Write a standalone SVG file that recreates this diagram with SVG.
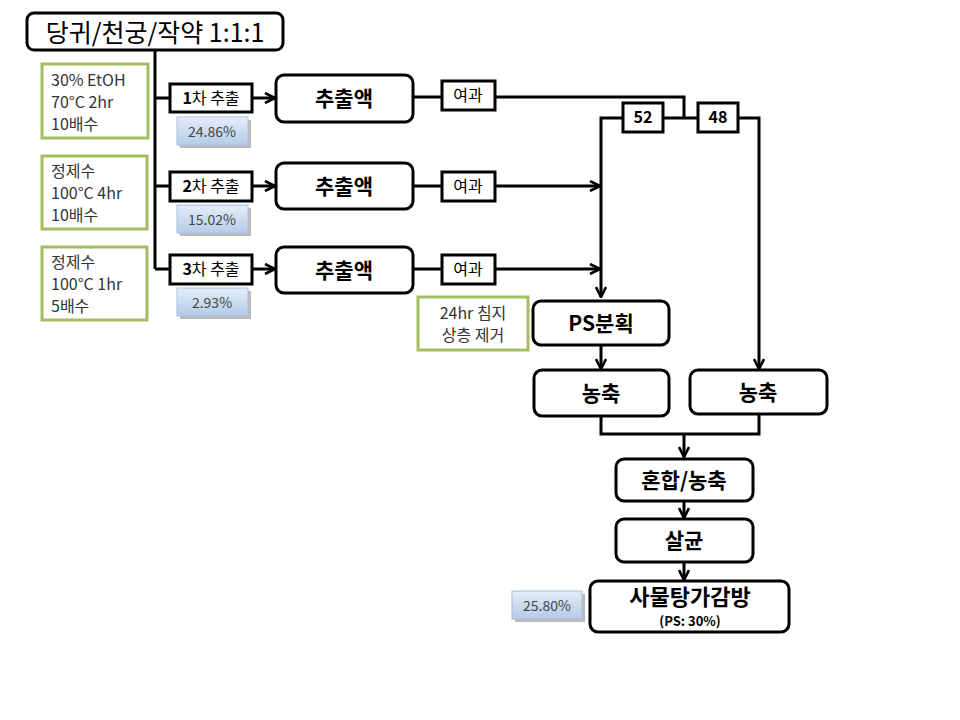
<svg xmlns="http://www.w3.org/2000/svg" width="960" height="720" viewBox="0 0 960 720">
<style>
text{font-family:"Noto Sans CJK KR","Noto Sans",sans-serif;fill:#000}
.box{fill:#fff;stroke:#000;stroke-width:3}
.green{fill:#fff;stroke:#a4bd5f;stroke-width:3}
.blue{fill:url(#bg);stroke:#a9c0dc;stroke-width:1}
.shadow{fill:#bbb}
.c{fill:none;stroke:#000;stroke-width:3}
.ca{fill:none;stroke:#000;stroke-width:3;marker-end:url(#ah)}
.big{font-size:21px;font-weight:bold;text-anchor:middle}
.mid{font-size:16px;text-anchor:middle}
.gt{font-size:16px;fill:#333}
.bt{font-size:14px;fill:#444;text-anchor:middle}
</style>
<defs>
<linearGradient id="bg" x1="0" y1="0" x2="0" y2="1">
<stop offset="0" stop-color="#e4edf8"/>
<stop offset="1" stop-color="#b3cbe8"/>
</linearGradient>
<marker id="ah" viewBox="0 0 12 12" refX="11" refY="6" markerWidth="12" markerHeight="12" markerUnits="userSpaceOnUse" orient="auto">
<path d="M1,1 L11,6 L1,11" fill="none" stroke="#000" stroke-width="2.6"/>
</marker>
</defs>
<rect width="960" height="720" fill="#fff"/>

<g id="connectors">
<path class="c" d="M155,50 V269"/>
<path class="c" d="M155,98 H170 M155,186 H170 M155,269 H170"/>
<path class="ca" d="M252,98 H275"/>
<path class="ca" d="M252,186 H275"/>
<path class="ca" d="M252,269 H275"/>
<path class="c" d="M413,97 H442 M413,186 H442 M413,269 H442"/>
<path class="c" d="M495,97 H684 V118 M663,118 H698"/>
<path class="ca" d="M495,186 H600"/>
<path class="ca" d="M495,269 H600"/>
<path class="ca" d="M623,118 H601 V297"/>
<path class="ca" d="M738,118 H759 V369"/>
<path class="ca" d="M601,345 V369"/>
<path class="c" d="M601,416 V434 H759 V414"/>
<path class="ca" d="M684,434 V457"/>
<path class="ca" d="M684,501 V518"/>
<path class="ca" d="M684,562 V580"/>
</g>

<g id="title">
<rect class="box" x="27" y="13" width="256" height="37" rx="7"/>
<text x="155" y="42" font-size="25" text-anchor="middle">당귀/천궁/작약 1:1:1</text>
</g>

<g id="cond1">
<rect class="green" x="42" y="64" width="106" height="74"/>
<text class="gt" x="51" y="86">30%  EtOH</text>
<text class="gt" x="51" y="108">70°C  2hr</text>
<text class="gt" x="51" y="130">10배수</text>
</g>
<g id="cond2">
<rect class="green" x="42" y="156" width="105" height="73"/>
<text class="gt" x="51" y="177">정제수</text>
<text class="gt" x="51" y="199">100°C  4hr</text>
<text class="gt" x="51" y="221">10배수</text>
</g>
<g id="cond3">
<rect class="green" x="42" y="247" width="105" height="73"/>
<text class="gt" x="51" y="268">정제수</text>
<text class="gt" x="51" y="290">100°C  1hr</text>
<text class="gt" x="51" y="312">5배수</text>
</g>

<g id="ext1">
<rect class="box" x="170" y="84" width="82" height="28"/>
<text class="mid" x="211" y="104"><tspan font-weight="bold">1</tspan>차 추출</text>
</g>
<g id="ext2">
<rect class="box" x="170" y="172" width="82" height="29"/>
<text class="mid" x="211" y="192"><tspan font-weight="bold">2</tspan>차 추출</text>
</g>
<g id="ext3">
<rect class="box" x="170" y="255" width="82" height="29"/>
<text class="mid" x="211" y="275"><tspan font-weight="bold">3</tspan>차 추출</text>
</g>

<g id="y1">
<rect class="shadow" x="180" y="120" width="71" height="28"/>
<rect class="blue" x="177" y="117" width="71" height="28"/>
<text class="bt" x="212" y="137">24.86%</text>
</g>
<g id="y2">
<rect class="shadow" x="180" y="208" width="71" height="28"/>
<rect class="blue" x="177" y="205" width="71" height="28"/>
<text class="bt" x="212" y="225">15.02%</text>
</g>
<g id="y3">
<rect class="shadow" x="180" y="291" width="71" height="28"/>
<rect class="blue" x="177" y="288" width="71" height="28"/>
<text class="bt" x="212" y="308">2.93%</text>
</g>

<g id="liq1">
<rect class="box" x="276" y="75" width="137" height="47" rx="8"/>
<text class="big" x="344" y="106">추출액</text>
</g>
<g id="liq2">
<rect class="box" x="276" y="163" width="137" height="46" rx="8"/>
<text class="big" x="344" y="194">추출액</text>
</g>
<g id="liq3">
<rect class="box" x="276" y="247" width="137" height="46" rx="8"/>
<text class="big" x="344" y="278">추출액</text>
</g>

<g id="f1">
<rect class="box" x="442" y="81" width="53" height="29"/>
<text class="mid" x="468" y="101">여과</text>
</g>
<g id="f2">
<rect class="box" x="442" y="172" width="53" height="29"/>
<text class="mid" x="468" y="192">여과</text>
</g>
<g id="f3">
<rect class="box" x="442" y="255" width="53" height="29"/>
<text class="mid" x="468" y="275">여과</text>
</g>

<g id="p52">
<rect class="box" x="623" y="103" width="40" height="29"/>
<text class="mid" x="643" y="123" font-weight="bold">52</text>
</g>
<g id="p48">
<rect class="box" x="698" y="103" width="40" height="29"/>
<text class="mid" x="718" y="123" font-weight="bold">48</text>
</g>

<g id="note">
<rect class="green" x="418" y="297" width="110" height="53"/>
<text class="gt" x="473" y="319" text-anchor="middle">24hr 침지</text>
<text class="gt" x="473" y="341" text-anchor="middle">상층 제거</text>
</g>

<g id="ps">
<rect class="box" x="533" y="301" width="136" height="44" rx="8"/>
<text class="big" x="601" y="331">PS분획</text>
</g>
<g id="conc1">
<rect class="box" x="534" y="370" width="135" height="46" rx="8"/>
<text class="big" x="601" y="401">농축</text>
</g>
<g id="conc2">
<rect class="box" x="690" y="370" width="137" height="44" rx="8"/>
<text class="big" x="758" y="400">농축</text>
</g>
<g id="mix">
<rect class="box" x="616" y="459" width="137" height="42" rx="8"/>
<text class="big" x="684" y="488">혼합/농축</text>
</g>
<g id="steril">
<rect class="box" x="616" y="519" width="137" height="43" rx="8"/>
<text class="big" x="684" y="548">살균</text>
</g>
<g id="final">
<rect class="box" x="590" y="581" width="199" height="51" rx="8"/>
<text x="690" y="605" font-size="22" font-weight="bold" text-anchor="middle">사물탕가감방</text>
<text x="690" y="626" font-size="13" font-weight="bold" text-anchor="middle">(PS: 30%)</text>
</g>
<g id="y4">
<rect class="shadow" x="515" y="594" width="70" height="28"/>
<rect class="blue" x="512" y="591" width="70" height="28"/>
<text class="bt" x="547" y="611">25.80%</text>
</g>
</svg>
